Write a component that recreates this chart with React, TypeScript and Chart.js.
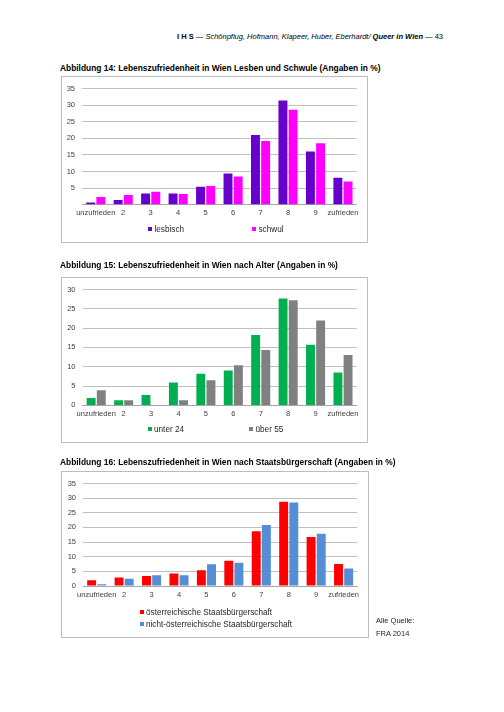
import { useEffect, useRef } from "react";
import { Chart, registerables } from "chart.js";

Chart.register(...registerables);

const categories = ["unzufrieden", "2", "3", "4", "5", "6", "7", "8", "9", "zufrieden"];

// Abbildung 14
const lesbisch = [0.7, 1.4, 3.4, 3.4, 5.4, 9.4, 21.0, 31.4, 16.0, 8.1];
const schwul = [2.3, 2.9, 3.9, 3.2, 5.6, 8.5, 19.2, 28.6, 18.5, 7.0];

// Abbildung 15
const unter24 = [1.9, 1.3, 2.7, 5.9, 8.2, 9.0, 18.2, 27.7, 15.7, 8.5];
const ueber55 = [3.9, 1.3, 0, 1.3, 6.5, 10.4, 14.3, 27.2, 22.0, 13.0];

// Abbildung 16
const oesterreichisch = [2.0, 2.9, 3.4, 4.3, 5.4, 8.6, 18.7, 28.8, 16.7, 7.5];
const nichtOesterreichisch = [0.6, 2.5, 3.7, 3.7, 7.4, 7.9, 20.8, 28.5, 17.8, 6.0];

const FONT = "'Liberation Sans', Arial, Helvetica, sans-serif";

function BarChart({ frame, plot, max, hideZero, series }: any) {
  const canvasEl: any = useRef(null);
  const w = frame.w - 2;
  const h = frame.h - 2;

  useEffect(() => {
    const ctx = canvasEl.current.getContext("2d");
    const xHeight = 14;
    const config: any = {
      type: "bar",
      data: {
        labels: categories,
        datasets: series.map((s: any) => ({
          label: s.label,
          data: s.data,
          backgroundColor: s.color,
          borderWidth: 0,
          categoryPercentage: 0.74,
          barPercentage: 0.88,
        })),
      },
      options: {
        responsive: false,
        animation: false,
        layout: {
          padding: {
            top: plot.top,
            right: w - plot.right,
            left: 0,
            bottom: h - plot.bottom - xHeight,
          },
        },
        plugins: { legend: { display: false }, tooltip: { enabled: false } },
        scales: {
          x: {
            grid: { display: false, drawTicks: false },
            border: { display: true, color: "#a6a6a6", width: 1 },
            ticks: {
              color: "#404040",
              padding: 4,
              maxRotation: 0,
              autoSkip: false,
              font: { family: FONT, size: 7.5 },
            },
            afterFit: (scale: any) => {
              scale.height = xHeight;
            },
          },
          y: {
            min: 0,
            max: max,
            grid: { color: "#b0b0b0", lineWidth: 0.8, drawTicks: false },
            border: { display: false },
            ticks: {
              stepSize: 5,
              color: "#404040",
              padding: 7,
              font: { family: FONT, size: 7.5 },
              callback: (v: any) => (hideZero && v === 0 ? "" : v),
            },
            afterFit: (scale: any) => {
              scale.width = plot.left;
            },
          },
        },
      },
    };
    const chart = new Chart(ctx, config);
    return () => {
      chart.destroy();
    };
  }, []);

  return (
    <div
      style={{
        position: "absolute",
        left: frame.x,
        top: frame.y,
        width: w,
        height: h,
        border: "1px solid #bdbdbd",
      }}
    >
      <canvas ref={canvasEl} width={w} height={h} style={{ width: w, height: h, display: "block" }} />
    </div>
  );
}

function LegendItem({ x, y, color, text }: any) {
  return (
    <div
      style={{
        position: "absolute",
        left: x,
        top: y - 6,
        height: 12,
        display: "flex",
        alignItems: "center",
        whiteSpace: "nowrap",
        fontFamily: FONT,
        fontSize: 8.2,
        color: "#262626",
      }}
    >
      <span style={{ width: 4, height: 4, background: color, marginRight: 2.5, display: "inline-block" }} />
      <span>{text}</span>
    </div>
  );
}

function Title({ y, text }: any) {
  return (
    <div
      style={{
        position: "absolute",
        left: 60,
        top: y - 6,
        height: 12,
        lineHeight: "12px",
        whiteSpace: "nowrap",
        fontFamily: FONT,
        fontWeight: "bold",
        fontSize: 8.4,
        color: "#000",
      }}
    >
      {text}
    </div>
  );
}

export default function App() {
  return (
    <div style={{ position: "absolute", left: 0, top: 0, width: 504, height: 712, background: "#fff", fontFamily: FONT }}>
      <div
        style={{
          position: "absolute",
          right: 504 - 443,
          top: 31,
          height: 12,
          lineHeight: "12px",
          whiteSpace: "nowrap",
          fontSize: 7.5,
          color: "#000",
        }}
      >
        <b>I H S</b> — <i>Schönpflug, Hofmann, Klapeer, Huber, Eberhardt/ </i>
        <b>
          <i>Queer in Wien</i>
        </b>{" "}
        — 43
      </div>

      <Title y={68} text="Abbildung 14: Lebenszufriedenheit in Wien Lesben und Schwule (Angaben in %)" />
      <BarChart
        frame={{ x: 61, y: 76, w: 307, h: 167 }}
        plot={{ left: 20, right: 294.7, top: 8.7, bottom: 127.7 }}
        max={35}
        hideZero={true}
        series={[
          { label: "lesbisch", data: lesbisch, color: "#6600cc" },
          { label: "schwul", data: schwul, color: "#ff00ff" },
        ]}
      />
      <LegendItem x={148} y={229.3} color="#6600cc" text="lesbisch" />
      <LegendItem x={252} y={229.3} color="#ff00ff" text="schwul" />

      <Title y={265} text="Abbildung 15: Lebenszufriedenheit in Wien nach Alter (Angaben in %)" />
      <BarChart
        frame={{ x: 61, y: 277, w: 307, h: 166 }}
        plot={{ left: 20.5, right: 294.7, top: 7.3, bottom: 127.3 }}
        max={30}
        hideZero={false}
        series={[
          { label: "unter 24", data: unter24, color: "#00b050" },
          { label: "über 55", data: ueber55, color: "#808080" },
        ]}
      />
      <LegendItem x={147.5} y={429} color="#00b050" text="unter 24" />
      <LegendItem x={249} y={429} color="#808080" text="über 55" />

      <Title y={462} text="Abbildung 16: Lebenszufriedenheit in Wien nach Staatsbürgerschaft (Angaben in %)" />
      <BarChart
        frame={{ x: 61, y: 471, w: 308, h: 167 }}
        plot={{ left: 21, right: 295.3, top: 8, bottom: 114 }}
        max={35}
        hideZero={false}
        series={[
          { label: "österreichische Staatsbürgerschaft", data: oesterreichisch, color: "#ff0000" },
          { label: "nicht-österreichische Staatsbürgerschaft", data: nichtOesterreichisch, color: "#558ed5" },
        ]}
      />
      <LegendItem x={139.5} y={612.3} color="#ff0000" text="österreichische Staatsbürgerschaft" />
      <LegendItem x={139.5} y={624} color="#558ed5" text="nicht-österreichische Staatsbürgerschaft" />

      <div style={{ position: "absolute", left: 376, top: 615, fontSize: 7.5, lineHeight: "12.5px", color: "#262626" }}>
        Alle Quelle:
        <br />
        FRA 2014
      </div>
    </div>
  );
}
